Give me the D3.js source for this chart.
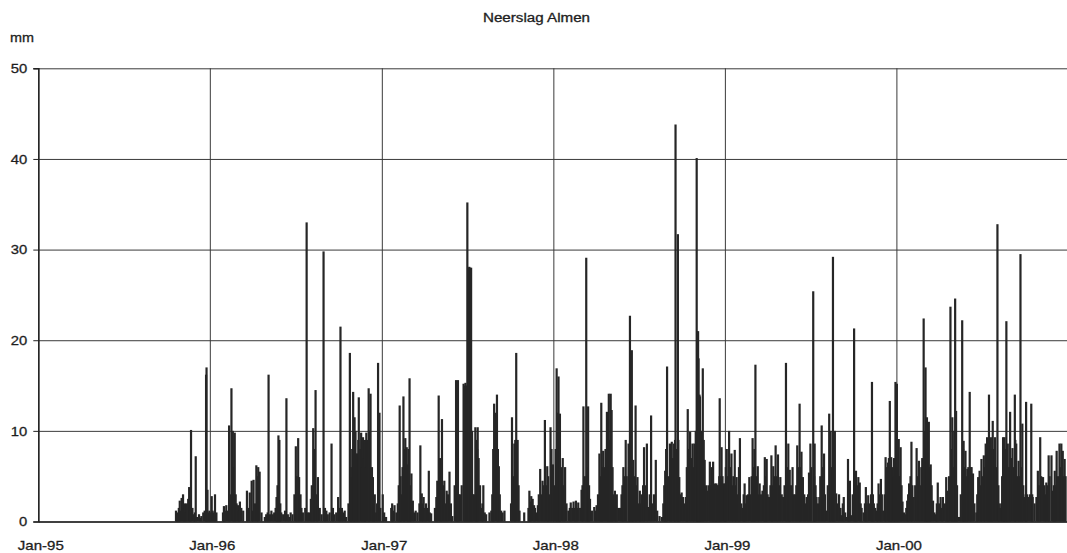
<!DOCTYPE html>
<html>
<head>
<meta charset="utf-8">
<script src="https://cdn.jsdelivr.net/npm/d3@7"></script>
<style>
  html, body { margin: 0; padding: 0; background: #fff; }
  svg { display: block; }
  text { font-family: "Liberation Sans", Arial, sans-serif; fill: #1e1e1e; stroke: #1e1e1e; stroke-width: 0.3px; }
</style>
</head>
<body>
<svg id="chart" width="1067" height="553"></svg>
<script>
// Daily precipitation at Almen, mm per day.
// Each yearly list holds [day offset from 1 January, mm] for the wet days.
const rain1995 = [[293,1.2],[295,0.8],[297,1.0],[299,1.5],[301,2.3],[303,1.2],[305,2.6],[308,3.0],[310,1.4],[312,2.0],[314,1.0],[316,2.0],[319,2.5],[321,3.8],[323,1.2],[325,10.1],[328,1.5],[331,0.8],[333,1.0],[335,7.2],[338,0.5],[342,0.8],[345,0.4],[347,0.6],[351,1.0],[354,1.2],[357,16.2],[358,17.0],[360,3.5],[362,1.0],[364,1.2]];

const rain1996 = [[1,1.0],[4,2.8],[6,1.2],[9,1.0],[11,3.0],[14,1.0],[28,1.0],[30,1.7],[32,1.2],[35,1.8],[38,1.2],[41,10.6],[43,3],[46,14.7],[49,10.0],[51,6],[53,9.8],[55,3],[57,2.0],[60,1.8],[62,1.2],[64,2.2],[67,1.5],[71,1.2],[79,3.4],[82,1.5],[85,3.2],[89,4.5],[91,1.2],[93,4.6],[96,2],[99,6.2],[101,5.0],[103,6.0],[106,5.5],[110,1.0],[117,0.5],[120,0.8],[123,1.0],[125,16.2],[128,0.8],[131,1.2],[134,0.8],[137,1.0],[140,1.5],[142,2.7],[144,4],[146,9.5],[148,9.0],[150,2.0],[152,1.0],[156,0.8],[160,1.2],[163,13.6],[166,0.8],[169,0.5],[172,1.0],[176,0.8],[180,3],[183,8.3],[185,5],[188,9.2],[190,4.9],[193,3.0],[195,1.5],[198,1.0],[203,1.5],[206,33.0],[209,1.0],[212,1.0],[215,2.5],[217,4],[220,10.3],[222,8.0],[225,14.5],[228,3],[230,4.9],[234,1.5],[238,0.8],[242,29.8],[245,1.5],[248,1.2],[251,0.8],[255,1.0],[259,8.6],[262,1.5],[265,0.8],[269,1.0],[273,2.7],[276,1.5],[278,21.5],[281,1.5],[284,1.0],[287,1.2],[290,0.5],[295,2],[298,18.6],[300,6],[301,4.9],[303,8],[305,14.3],[307,9],[308,11.5],[310,10],[312,7.5],[314,7.5],[316,9],[317,13.7],[320,8],[322,9.8],[324,6],[326,9.3],[328,7],[330,9.0],[331,6],[333,9.8],[336,9],[338,14.7],[340,10],[342,14.1],[345,6],[347,4.9],[349,2],[351,3.0],[353,1],[356,2],[358,17.5],[361,12.0],[363,1.5]];

const rain1997 = [[2,3.0],[5,1.0],[9,0.5],[20,1.5],[22,2.0],[24,1.2],[27,1.8],[31,1.0],[34,2],[36,4],[38,12.8],[40,5],[41,3.0],[44,6],[46,13.8],[48,8],[50,9.2],[53,8.2],[55,6.3],[57,8],[59,15.8],[61,4],[63,5.3],[66,2.3],[69,1],[72,1.2],[76,1.0],[80,2],[82,8.4],[85,3.1],[87,2],[89,2.7],[92,1.5],[94,2.0],[97,1.5],[100,5.6],[102,1.0],[105,0.9],[113,1.5],[116,2.7],[118,4.5],[121,13.9],[124,7.0],[126,5],[128,11.3],[131,4],[133,4.5],[136,2],[138,3.4],[141,3],[144,5.5],[147,2.0],[150,0.6],[155,4],[158,15.6],[160,15.4],[162,15.6],[164,3],[167,3],[170,4],[174,15.2],[176,15],[178,15.3],[180,15],[182,35.2],[184,28],[186,28.1],[188,28],[190,28],[192,10],[194,3],[197,3],[199,10.4],[201,9],[203,8],[204,10.4],[206,7],[209,4.0],[212,1.5],[214,2],[216,4.0],[219,1.0],[222,0.8],[229,1.0],[233,1.2],[235,3],[237,8],[239,13.0],[242,12],[245,14.0],[247,8],[249,6.1],[251,3],[254,1.2],[257,1],[261,1.2],[275,2],[277,11.5],[280,5],[282,8.6],[284,9],[286,18.6],[289,9.0],[291,4],[293,1.2],[303,1.0],[312,1.5],[314,3.4],[316,2.2],[318,2.8],[321,2.5],[324,1.8],[326,1.5],[329,1.0],[332,1.8],[334,3],[337,5.8],[340,3],[342,4.5],[345,4],[347,11.2],[350,4],[352,6.1],[354,5],[356,3],[359,10.4],[361,8],[364,6.3]];

const rain1998 = [[2,4],[5,8],[7,16.9],[9,12],[11,16.0],[13,9],[14,11.9],[17,6],[20,7.0],[22,4],[25,6.0],[28,2],[32,1.2],[35,1.5],[37,2.1],[40,1.5],[43,2.2],[46,1.5],[48,2.3],[51,1.5],[53,2.1],[57,1.5],[60,3.5],[62,4],[64,12.7],[67,5],[70,29.1],[72,6],[74,12.7],[76,4],[78,2.5],[82,1.2],[87,1.6],[90,1.2],[92,1.8],[95,3],[98,7.5],[100,5],[102,13.1],[104,6],[106,7.8],[109,6],[111,8],[114,12.1],[116,7],[118,14.1],[120,9],[122,14.1],[124,12.3],[126,6],[128,3],[131,3.4],[133,2],[135,3.0],[138,1.5],[142,1.5],[145,3],[147,4],[149,6.0],[151,5],[154,9.0],[156,5],[160,8.6],[161,6],[163,22.7],[165,10],[167,18.9],[169,6],[170,6.8],[173,5],[175,12.8],[177,4],[179,4.9],[182,2],[184,3.4],[186,2],[188,3.0],[191,4],[193,8.2],[196,4],[199,8.6],[202,1.6],[205,3],[208,11.7],[211,2.0],[214,3],[218,6.8],[221,1.2],[226,0.6],[231,0.5],[234,2],[236,4],[238,5.6],[240,8],[242,17.1],[245,5],[248,8.6],[250,6],[252,8.8],[254,7],[257,8.6],[259,9],[260,43.8],[263,8],[265,31.7],[266,9],[268,4.9],[270,3],[273,3.2],[276,2.7],[279,2],[282,2.7],[284,6],[286,12.4],[288,8],[291,9.9],[293,7],[296,8.6],[298,6],[300,8.6],[303,10],[305,40.1],[306,21],[308,21.0],[309,18],[311,14],[312,13.8],[314,10],[316,8],[318,16.9],[320,9],[322,6.8],[325,4],[327,3.4],[330,4],[333,6.6],[335,4],[337,6.0],[339,4.5],[340,6.6],[342,4],[344,4.2],[346,3.5],[347,4.2],[349,4],[351,4.0],[353,5],[354,13.6],[356,5],[358,8.2],[360,5],[362,4.2],[364,4]];

const rain1999 = [[0,4.2],[2,6],[4,8.0],[6,5],[9,10.0],[11,6],[14,7.5],[16,4],[18,5],[21,7.9],[23,4],[25,4.9],[28,3],[30,6],[32,9.2],[35,2.0],[38,1.5],[40,3],[42,4.2],[44,2],[46,2.9],[49,3],[52,4.9],[55,3],[57,5],[59,9.2],[61,6],[63,8],[65,17.3],[67,5],[70,6.1],[72,3],[74,4.2],[77,3],[80,3.4],[83,4],[85,7.1],[87,5],[89,6.9],[91,3],[94,2.7],[97,4],[99,7.3],[101,4],[103,6.1],[106,5],[108,8.4],[111,5],[113,7.4],[116,4],[118,4.9],[121,3],[124,2.7],[127,4],[130,17.5],[132,6],[135,8.6],[137,4],[138,5.7],[141,4],[144,6.0],[146,3],[149,3.0],[152,4],[154,8.4],[157,6],[159,13.0],[161,6],[163,7.7],[166,4.9],[169,3],[171,2],[174,2.7],[177,3],[179,5.4],[182,8.6],[184,6],[188,25.4],[190,5],[191,8.6],[193,4],[195,2.7],[198,2],[201,2.7],[203,5],[206,10.6],[208,6],[211,7.5],[213,3],[216,1.2],[219,4],[222,11.9],[224,6],[225,10.0],[228,6],[230,29.2],[232,8],[234,10.0],[237,3.1],[240,2],[243,3.0],[246,1.5],[248,0.7],[251,2],[253,2.7],[256,1],[259,0.5],[262,6.9],[264,3],[266,4.5],[269,0.7],[272,3],[275,21.3],[277,4],[279,5.6],[281,4],[284,4.9],[287,4.3],[289,2],[291,1.5],[295,1],[298,2],[300,3.8],[302,2],[305,2.9],[308,2.0],[311,3],[313,15.4],[315,3],[317,2.0],[320,1.5],[323,1.2],[325,2],[327,4.2],[330,3],[332,4.7],[334,3],[337,1.2],[340,3],[342,7.1],[344,6],[347,6.5],[349,7],[351,13.3],[353,6],[354,7.1],[356,6],[358,4.9],[360,7],[362,5],[363,15.4]];

const rain2000 = [[1,15.2],[3,6],[5,9.1],[7,5],[9,8.2],[11,4],[13,2.2],[16,1],[18,0.8],[21,1.5],[23,2.3],[25,3],[27,4.2],[30,5],[32,8.8],[34,4],[37,2.7],[40,4],[43,8.1],[45,5],[48,6.7],[50,4],[53,6.0],[55,7],[58,22.4],[60,10],[62,17.0],[64,8],[65,11.5],[67,8],[69,11.0],[71,6],[73,6.3],[75,4],[78,2.3],[81,1],[84,0.8],[86,2],[88,4.3],[91,2],[94,2.7],[97,1.5],[99,2.7],[103,2.0],[106,4.9],[108,3],[110,3.4],[112,5],[115,23.7],[117,8],[119,11.5],[121,6],[123,10],[125,24.6],[127,12.2],[129,4],[131,0.5],[135,0.5],[137,3],[140,22.2],[142,8],[143,8.9],[145,6],[147,7.8],[149,5],[151,5.8],[153,6],[156,14.3],[158,6],[160,6],[163,5.3],[166,2.0],[170,1.0],[172,3],[174,4.9],[177,5.6],[179,4],[181,6.9],[183,5],[186,7.3],[188,6],[190,8.6],[193,9.3],[195,8],[197,14.0],[199,7],[201,9.3],[203,8],[205,11.1],[207,8],[210,9.3],[212,6],[215,32.8],[217,4],[218,2.0],[221,1.5],[223,2.0],[225,5],[227,9.3],[229,7],[230,9.3],[232,8],[234,22.1],[236,6],[237,8.6],[240,6],[242,12.1],[244,7],[247,8.1],[249,6],[252,14.0],[253,9],[255,8.6],[258,5],[260,6.7],[262,5],[264,29.5],[266,6],[268,10.8],[270,4],[273,2.7],[275,3],[276,13.2],[278,3],[281,2.7],[284,3],[287,13.0],[289,3],[290,2.7],[294,2],[298,2.7],[301,5.6],[303,4],[306,9.3],[308,5],[312,4.9],[315,4.0],[317,3],[319,4.3],[322,4],[324,7.3],[326,5],[330,7.3],[333,3.4],[335,4],[337,5.6],[339,4],[341,7.8],[344,5],[347,8.6],[349,6],[351,8.6],[354,7.8],[356,5],[358,6.9],[360,5]];

const seriesByYear = [
  [1995, rain1995], [1996, rain1996], [1997, rain1997],
  [1998, rain1998], [1999, rain1999], [2000, rain2000]
];

const yTicks = [0, 10, 20, 30, 40, 50];
const xTickYears = [1995, 1996, 1997, 1998, 1999, 2000];
const xTickLabels = ["Jan-95", "Jan-96", "Jan-97", "Jan-98", "Jan-99", "Jan-00"];
const titleText = "Neerslag Almen";
const unitText = "mm";

// flatten into dated records
const records = [];
seriesByYear.forEach(([yr, list]) => {
  list.forEach(([off, mm]) => {
    records.push({ date: d3.utcDay.offset(new Date(Date.UTC(yr, 0, 1)), off), mm });
  });
});

const svg = d3.select("#chart");
const plotLeft = 38.3, plotRight = 1068.4, plotTop = 68.3, plotBottom = 521.5;

const x = d3.scaleUtc()
  .domain([new Date(Date.UTC(1995, 0, 1)), new Date(Date.UTC(2001, 0, 1))])
  .range([plotLeft, plotRight]);
const y = d3.scaleLinear().domain([0, 50]).range([plotBottom, plotTop]);

const gridColor = "#3a3a3a";

// horizontal grid
const hGrid = svg.append("g")
  .attr("transform", `translate(${plotLeft},0)`)
  .call(d3.axisLeft(y).tickValues(yTicks).tickSize(-(plotRight - plotLeft)).tickFormat(""));
hGrid.select(".domain").remove();
hGrid.selectAll("line").attr("stroke", gridColor).attr("stroke-width", 1);

// vertical grid at each January
const janDates = xTickYears.map(yr => new Date(Date.UTC(yr, 0, 1)));
const vGrid = svg.append("g")
  .attr("transform", `translate(0,${plotBottom})`)
  .call(d3.axisBottom(x).tickValues(janDates).tickSize(-(plotBottom - plotTop)).tickFormat(""));
vGrid.select(".domain").remove();
vGrid.selectAll("line").attr("stroke", gridColor).attr("stroke-width", 1);

// daily bars
const barW = 2.2;
svg.append("g")
  .selectAll("rect")
  .data(records)
  .join("rect")
  .attr("x", d => x(d.date) - barW / 2)
  .attr("y", d => y(d.mm))
  .attr("width", barW)
  .attr("height", d => y(0) - y(d.mm))
  .attr("fill", "#262626");

// y axis
const yAxis = svg.append("g")
  .attr("transform", `translate(${plotLeft},0)`)
  .call(d3.axisLeft(y).tickValues(yTicks).tickSize(5).tickPadding(6).tickFormat(d3.format("d")));
yAxis.select(".domain").attr("stroke", "#222").attr("stroke-width", 1.5);
yAxis.selectAll("line").attr("stroke", "#222");
yAxis.selectAll("text")
  .attr("font-size", 13)
  .style("font-family", '"Liberation Sans", Arial, sans-serif')
  .attr("fill", "#1e1e1e")
  .each(function () {
    const w = this.getComputedTextLength();
    d3.select(this).attr("textLength", w * 1.14).attr("lengthAdjust", "spacingAndGlyphs");
  });

// x axis
const xAxis = svg.append("g")
  .attr("transform", `translate(0,${plotBottom})`)
  .call(d3.axisBottom(x).tickValues(janDates).tickSize(0)
    .tickFormat((d, i) => xTickLabels[i]));
xAxis.select(".domain").attr("stroke", "#222").attr("stroke-width", 1.6);
xAxis.selectAll("text")
  .attr("font-size", 13)
  .style("font-family", '"Liberation Sans", Arial, sans-serif')
  .attr("fill", "#1e1e1e")
  .attr("y", 28.5).attr("dy", 0).attr("dx", 2)
  .attr("textLength", 46).attr("lengthAdjust", "spacingAndGlyphs");

// title and unit
svg.append("text")
  .attr("x", 536.5).attr("y", 21.5)
  .attr("text-anchor", "middle")
  .attr("font-size", 12)
  .attr("textLength", 107).attr("lengthAdjust", "spacingAndGlyphs")
  .text(titleText);

svg.append("text")
  .attr("x", 10).attr("y", 41.5)
  .attr("font-size", 13)
  .attr("textLength", 24).attr("lengthAdjust", "spacingAndGlyphs")
  .text(unitText);
</script>
</body>
</html>
